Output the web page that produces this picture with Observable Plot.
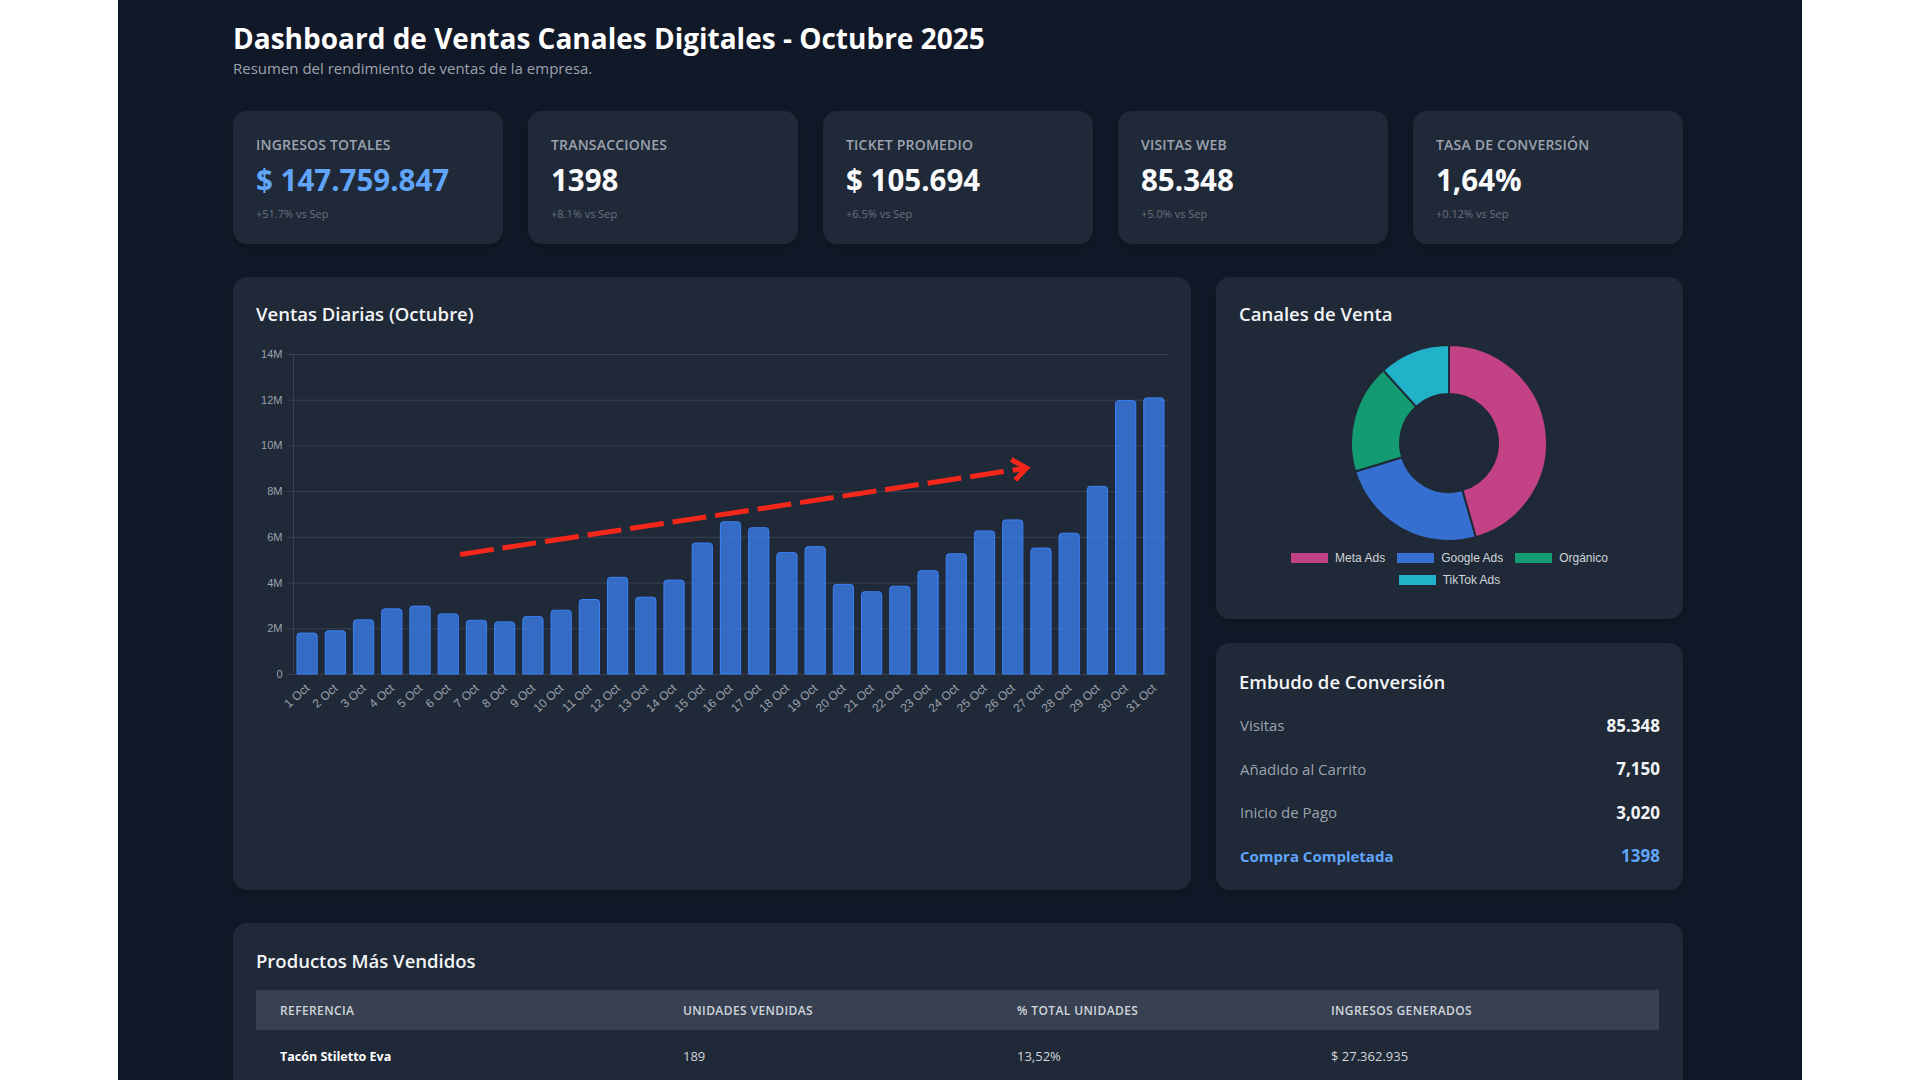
<!DOCTYPE html>
<html lang="es">
<head>
<meta charset="utf-8">
<title>Dashboard de Ventas Canales Digitales - Octubre 2025</title>
<script src="https://cdn.jsdelivr.net/npm/d3@7"></script>
<script src="https://cdn.jsdelivr.net/npm/@observablehq/plot@0.6"></script>
<style>
  html, body { margin: 0; padding: 0; width: 1920px; height: 1080px; overflow: hidden; background: #ffffff; }
  #pagina { position: absolute; left: 118px; top: 0; width: 1684px; height: 1080px; background: #111827;
    font-family: "Open Sans", "Noto Sans", sans-serif; color: #f3f4f6; overflow: hidden; }
  .abs { position: absolute; line-height: 1; white-space: nowrap; }
  h1.abs { margin: 0; left: 115px; top: 24px; font-size: 28px; font-weight: 700; color: #ffffff; }
  .subtitulo { left: 115px; top: 61px; font-size: 15px; color: #9ca3af; }
  .tarjeta { position: absolute; background: #1f2937; border-radius: 14px; box-shadow: 0 4px 12px rgba(0,0,0,0.18); }
  .kpi-etiqueta { left: 23px; top: 27px; font-size: 14px; font-weight: 600; color: #9ca3af; letter-spacing: 0.2px; }
  .kpi-valor { left: 23px; top: 54px; font-size: 29.5px; font-weight: 700; color: #f9fafb; }
  .kpi-valor.destacado { color: #60a5fa; }
  .kpi-delta { left: 23px; top: 97px; font-size: 11px; color: #6b7280; }
  .titulo-tarjeta { left: 23px; top: 28px; font-size: 18.5px; font-weight: 600; color: #f3f4f6; }
  #graficoVentas { position: absolute; left: 23px; top: 67px; }
  #graficoCanales { position: absolute; left: 130px; top: 63px; }
  #leyenda { position: absolute; left: 63px; top: 270px; width: 341px; }
  #leyenda > div { display: flex; flex-wrap: wrap; justify-content: center; column-gap: 12px; row-gap: 0;
    margin: 0; min-height: 0; font-family: "Liberation Sans", Arial, sans-serif; font-size: 12px; color: #d1d5db; }
  #leyenda span { display: inline-flex; align-items: center; margin: 0; height: 22px; }
  #leyenda svg { margin-right: 7px; }
  .fila-embudo { position: absolute; left: 24px; right: 23px; height: 44px; display: flex;
    justify-content: space-between; align-items: center; }
  .fila-embudo .paso { font-size: 15px; color: #9ca3af; }
  .fila-embudo .valor { font-size: 17px; font-weight: 700; color: #f3f4f6; }
  .fila-embudo.final .paso, .fila-embudo.final .valor { color: #60a5fa; font-weight: 700; }
  table { position: absolute; left: 23px; top: 67px; width: 1403px; border-collapse: collapse; table-layout: fixed; }
  th { background: #374151; height: 40px; padding: 0 24px; text-align: left; font-size: 12px; font-weight: 600;
    color: #d1d5db; letter-spacing: 0.4px; }
  td { height: 52px; padding: 0 24px; font-size: 13px; color: #d1d5db; }
  td.referencia { font-weight: 700; color: #ffffff; font-size: 12.5px; }
</style>
</head>
<body>
<div id="pagina">
  <h1 class="abs">Dashboard de Ventas Canales Digitales - Octubre 2025</h1>
  <div class="abs subtitulo">Resumen del rendimiento de ventas de la empresa.</div>
  <div id="kpis"></div>

  <div class="tarjeta" style="left:115px; top:277px; width:958px; height:613px;">
    <div class="abs titulo-tarjeta">Ventas Diarias (Octubre)</div>
    <div id="graficoVentas"></div>
  </div>

  <div class="tarjeta" style="left:1098px; top:277px; width:467px; height:342px;">
    <div class="abs titulo-tarjeta">Canales de Venta</div>
    <div id="graficoCanales"></div>
    <div id="leyenda"></div>
  </div>

  <div class="tarjeta" id="embudo" style="left:1098px; top:643px; width:467px; height:247px;">
    <div class="abs titulo-tarjeta" style="top:30px;">Embudo de Conversión</div>
  </div>

  <div class="tarjeta" id="productos" style="left:115px; top:923px; width:1450px; height:320px;">
    <div class="abs titulo-tarjeta" style="top:29px;">Productos Más Vendidos</div>
  </div>
</div>

<script>
// Indicadores del mes
const kpiTitulos = ["INGRESOS TOTALES", "TRANSACCIONES", "TICKET PROMEDIO", "VISITAS WEB", "TASA DE CONVERSIÓN"];
const kpiValores = ["$ 147.759.847", "1398", "$ 105.694", "85.348", "1,64%"];
const kpiVariacion = ["+51.7% vs Sep", "+8.1% vs Sep", "+6.5% vs Sep", "+5.0% vs Sep", "+0.12% vs Sep"];

// Ventas diarias de octubre, en millones
const dias = [1, 2, 3, 4, 5, 6, 7, 8, 9, 10, 11, 12, 13, 14, 15, 16, 17, 18, 19, 20,
              21, 22, 23, 24, 25, 26, 27, 28, 29, 30, 31];
const ventasMillones = [1.79, 1.89, 2.37, 2.85, 2.97, 2.63, 2.35, 2.28, 2.51, 2.79,
                        3.26, 4.23, 3.36, 4.11, 5.73, 6.66, 6.40, 5.31, 5.57, 3.92,
                        3.60, 3.84, 4.52, 5.26, 6.26, 6.74, 5.51, 6.16, 8.21, 11.96, 12.08];
const ticksVentas = [0, 2, 4, 6, 8, 10, 12, 14];

// Flecha de tendencia (día, millones)
const tendenciaDesde = [6.4, 5.25];
const tendenciaHasta = [26.47, 9.03];

// Participación por canal (%)
const canales = ["Meta Ads", "Google Ads", "Orgánico", "TikTok Ads"];
const participacion = [45.6, 24.7, 18.0, 11.7];

// Embudo de conversión
const pasosEmbudo = ["Visitas", "Añadido al Carrito", "Inicio de Pago", "Compra Completada"];
const valoresEmbudo = ["85.348", "7,150", "3,020", "1398"];

// Productos más vendidos
const columnasProductos = ["REFERENCIA", "UNIDADES VENDIDAS", "% TOTAL UNIDADES", "INGRESOS GENERADOS"];
const productos = ["Tacón Stiletto Eva"];
const unidadesVendidas = [189];
const porcentajeUnidades = ["13,52%"];
const ingresosGenerados = ["$ 27.362.935"];

// Paleta
const coloresCanales = ["#c34285", "#3570d0", "#139c72", "#21b1c9"];
const colorBarra = "#3b82f6";
const colorRejilla = "#374151";

// --- Tarjetas de indicadores ---
const kpis = d3.select("#kpis");
kpiTitulos.forEach((titulo, i) => {
  const t = kpis.append("div").attr("class", "tarjeta")
    .style("left", `${115 + i * 295}px`).style("top", "111px")
    .style("width", "270px").style("height", "133px");
  t.append("div").attr("class", "abs kpi-etiqueta").text(titulo);
  t.append("div").attr("class", "abs kpi-valor" + (i === 0 ? " destacado" : "")).text(kpiValores[i]);
  t.append("div").attr("class", "abs kpi-delta").text(kpiVariacion[i]);
});

// --- Ventas diarias ---
const ventasDiarias = dias.map((dia, i) => ({dia, ventas: ventasMillones[i]}));
const dominioDias = [d3.min(dias) - 0.5, d3.max(dias) + 0.5];
const tendencia = [{dia1: tendenciaDesde[0], ventas1: tendenciaDesde[1], dia2: tendenciaHasta[0], ventas2: tendenciaHasta[1]}];

const graficoVentas = Plot.plot({
  width: 912,
  height: 380,
  marginTop: 10,
  marginRight: 0,
  marginBottom: 50,
  marginLeft: 37,
  style: {background: "transparent", color: "#9ca3af", fontFamily: "'Liberation Sans', Arial, sans-serif", fontSize: "11px"},
  x: {type: "linear", domain: dominioDias},
  y: {domain: [0, d3.max(ticksVentas)]},
  marks: [
    Plot.gridY(ticksVentas, {stroke: colorRejilla, strokeOpacity: 1}),
    Plot.ruleX([dominioDias[0]], {stroke: colorRejilla}),
    Plot.axisY(ticksVentas, {tickSize: 6, tickPadding: 5, stroke: colorRejilla, strokeOpacity: 1,
      tickFormat: d => d === 0 ? "0" : `${d}M`, label: null}),
    Plot.axisX(dias, {tickSize: 0, tickPadding: 12, tickRotate: -42, fontSize: 12,
      tickFormat: d => `${d} Oct`, label: null}),
    Plot.rectY(ventasDiarias, {
      x1: d => d.dia - 0.5, x2: d => d.dia + 0.5, y: "ventas",
      insetLeft: 4, insetRight: 4,
      fill: colorBarra, fillOpacity: 0.75, stroke: colorBarra, strokeWidth: 1, ry2: 3
    }),
    Plot.arrow(tendencia, {
      x1: "dia1", y1: "ventas1", x2: "dia2", y2: "ventas2",
      stroke: "#f5261a", strokeWidth: 5, strokeDasharray: "34 9",
      strokeLinecap: "butt", strokeLinejoin: "miter", strokeMiterlimit: 4,
      headLength: 5.25, headAngle: 76
    })
  ]
});
document.getElementById("graficoVentas").append(graficoVentas);

// --- Canales de venta (anillo) ---
const escalaCanales = Plot.scale({color: {type: "ordinal", domain: canales, range: coloresCanales}});
const ventasCanal = canales.map((canal, i) => ({canal, participacion: participacion[i]}));

function anillo(index, scales, values, dimensions) {
  const {width = 206, height = 206, marginTop = 5, marginRight = 5, marginBottom = 5, marginLeft = 5} = dimensions || {};
  const radio = Math.min(width - marginLeft - marginRight, height - marginTop - marginBottom) / 2;
  const sectores = d3.pie().sort(null).value(d => d.participacion)(ventasCanal);
  const arco = d3.arc().outerRadius(radio).innerRadius(radio * 0.5);
  const g = d3.create("svg:g")
    .attr("transform", `translate(${(marginLeft + width - marginRight) / 2},${(marginTop + height - marginBottom) / 2})`);
  g.selectAll("path").data(sectores).join("path")
    .attr("d", arco)
    .attr("fill", d => escalaCanales.apply(d.data.canal))
    .attr("stroke", "#1f2937")
    .attr("stroke-width", 2);
  return g.node();
}

const graficoCanales = Plot.plot({
  width: 206,
  height: 206,
  margin: 5,
  style: {background: "transparent"},
  marks: [anillo]
});
document.getElementById("graficoCanales").append(graficoCanales);

document.getElementById("leyenda").append(Plot.legend({
  color: {type: "ordinal", domain: canales, range: coloresCanales},
  legend: "swatches",
  swatchWidth: 37,
  swatchHeight: 10
}));

// --- Embudo de conversión ---
const embudo = d3.select("#embudo");
pasosEmbudo.forEach((paso, i) => {
  const fila = embudo.append("div")
    .attr("class", "fila-embudo" + (i === pasosEmbudo.length - 1 ? " final" : ""))
    .style("top", `${60 + i * 43.5}px`);
  fila.append("span").attr("class", "paso").text(paso);
  fila.append("span").attr("class", "valor").text(valoresEmbudo[i]);
});

// --- Productos más vendidos ---
const tabla = d3.select("#productos").append("table");
const anchos = [403, 334, 314, 352];
tabla.append("colgroup").selectAll("col").data(anchos).join("col").style("width", d => `${d}px`);
tabla.append("thead").append("tr").selectAll("th").data(columnasProductos).join("th").text(d => d);
const cuerpo = tabla.append("tbody");
productos.forEach((p, i) => {
  const tr = cuerpo.append("tr");
  tr.append("td").attr("class", "referencia").text(p);
  tr.append("td").text(unidadesVendidas[i]);
  tr.append("td").text(porcentajeUnidades[i]);
  tr.append("td").text(ingresosGenerados[i]);
});
</script>
</body>
</html>
